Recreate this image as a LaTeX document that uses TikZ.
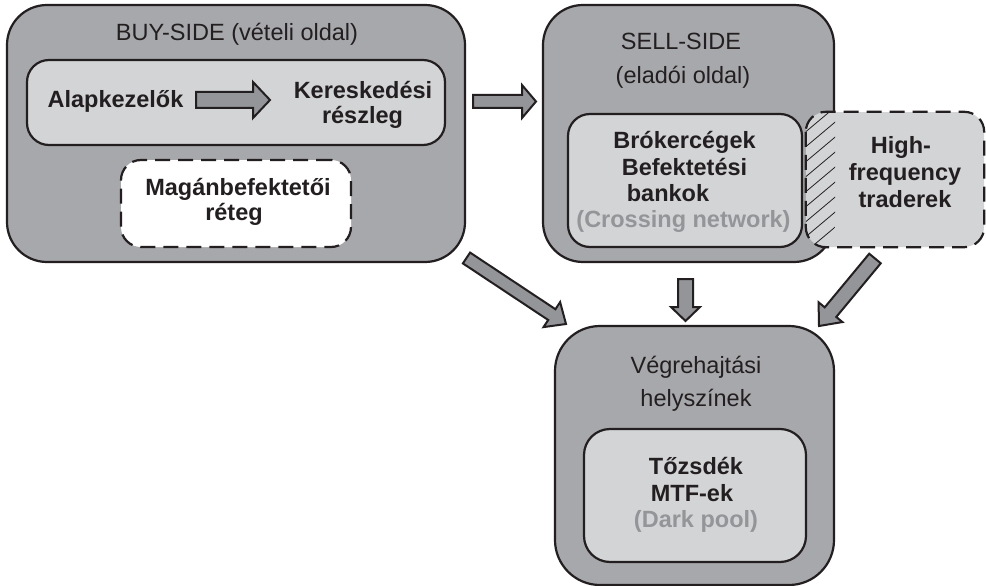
\documentclass[tikz,border=0pt]{standalone}
\usepackage{fontspec}
\setmainfont{Liberation Sans}
\usetikzlibrary{calc}
\definecolor{outerg}{HTML}{A7A8AB}
\definecolor{innerg}{HTML}{D3D4D6}
\definecolor{arrowg}{HTML}{939598}
\definecolor{textg}{HTML}{939598}
\definecolor{ink}{HTML}{231F20}
\newcommand{\blockarrow}[5]{%
  \coordinate (#1-h) at ($(#2)!#5!(#1)$);
  \filldraw[arr] ($(#1)!#3!90:(#2)$) -- ($(#1-h)!#3!90:(#2)$) -- ($(#1-h)!#4!90:(#2)$) -- (#2)
    -- ($(#1-h)!#4!-90:(#2)$) -- ($(#1-h)!#3!-90:(#2)$) -- ($(#1)!#3!-90:(#2)$) -- cycle;}
\begin{document}
\begin{tikzpicture}[x=1pt,y=-1pt,
  outerbox/.style={draw=ink, fill=outerg, line width=2.2pt, rounded corners=40pt, inner sep=0pt},
  innerbox/.style={draw=ink, fill=innerg, line width=2.2pt, rounded corners=22pt, inner sep=0pt},
  dashbox/.style={draw=ink, line width=2.2pt, rounded corners=20pt, dash pattern=on 15pt off 8pt},
  arr/.style={fill=arrowg, draw=ink, line width=2pt, line join=miter},
  ttl/.style={anchor=base, inner sep=0pt, text=ink, font=\fontsize{23.5}{28}\selectfont},
  bld/.style={ttl, font=\fontsize{23.5}{28}\selectfont\bfseries},
  gry/.style={bld, text=textg}]
\useasboundingbox (0,0) rectangle (986,586);
\fill[white] (0,0) rectangle (986,586);

% BUY-SIDE
\node[outerbox, minimum width=458pt, minimum height=257pt] (buy) at (236,133.5) {};
\node[ttl] (buyt) at (237,41) {BUY-SIDE (vételi oldal)};
\node[innerbox, minimum width=418pt, minimum height=85pt] (alap) at (236,102.5) {};
\node[bld] (alapt) at (115.5,107) {Alapkezelők};
\node[bld] (ker1) at (363,99) {Kereskedési};
\node[bld] (ker2) at (362.5,123) {részleg};
\node[dashbox, fill=white, minimum width=230pt, minimum height=87pt, inner sep=0pt] (mag) at (236,203.5) {};
\node[bld] (mag1) at (238,195) {Magánbefektetői};
\node[bld] (mag2) at (234,220) {réteg};

% SELL-SIDE
\node[outerbox, minimum width=291pt, minimum height=257pt] (sell) at (688.5,133.5) {};
\node[ttl] (sellt1) at (681,50) {SELL-SIDE};
\node[ttl] (sellt2) at (683,84) {(eladói oldal)};
\node[innerbox, minimum width=234pt, minimum height=133pt] (brok) at (685,180.5) {};
\node[bld] (brok1) at (684.5,148) {Brókercégek};
\node[bld] (brok2) at (684.5,175) {Befektetési};
\node[bld] (brok3) at (668,201) {bankok};
\node[gry] (brok4) at (683.5,227) {(Crossing network)};

% HFT
\node[fill=innerg, rounded corners=20pt, minimum width=178pt, minimum height=135pt, inner sep=0pt] (hft) at (895,179.5) {};
\begin{scope}
  \clip[rounded corners=40pt] (sell.north west) rectangle (sell.south east);
  \clip[rounded corners=20pt] (hft.north west) rectangle (hft.south east);
  \foreach \i in {0,...,14} \draw[ink, line width=0.8pt] (790,100+15*\i) -- ++(50,-42);
\end{scope}
\draw[dashbox] (hft.north west) rectangle (hft.south east);
\node[bld] (hft1) at (901,153) {High-};
\node[bld] (hft2) at (905,180) {frequency};
\node[bld] (hft3) at (905,207) {traderek};

% Execution venues
\node[outerbox, rounded corners=45pt, minimum width=279pt, minimum height=259pt] (exec) at (694.5,455.5) {};
\node[ttl] (exect1) at (696,373) {Végrehajtási};
\node[ttl] (exect2) at (696,406) {helyszínek};
\node[innerbox, rounded corners=26pt, minimum width=222pt, minimum height=133pt] (tozs) at (695,495.5) {};
\node[bld] (tozs1) at (696,474) {Tőzsdék};
\node[bld] (tozs2) at (692,501) {MTF-ek};
\node[gry] (tozs3) at (696,527) {(Dark pool)};

% arrows
\coordinate (a1) at (196,100); \coordinate (b1) at (270,100);
\blockarrow{a1}{b1}{8pt}{18pt}{17pt}
\coordinate (a2) at (473,101.5); \coordinate (b2) at (536,101.5);
\blockarrow{a2}{b2}{6.5pt}{16.5pt}{14pt}
\coordinate (a3) at (466.5,258); \coordinate (b3) at (566,324);
\blockarrow{a3}{b3}{6.5pt}{15pt}{17pt}
\coordinate (a4) at (685.5,279); \coordinate (b4) at (685.5,321);
\blockarrow{a4}{b4}{7.5pt}{14.5pt}{14pt}
\coordinate (a5) at (875,258.5); \coordinate (b5) at (819,326);
\blockarrow{a5}{b5}{7.5pt}{15.5pt}{18pt}
\end{tikzpicture}
\end{document}
